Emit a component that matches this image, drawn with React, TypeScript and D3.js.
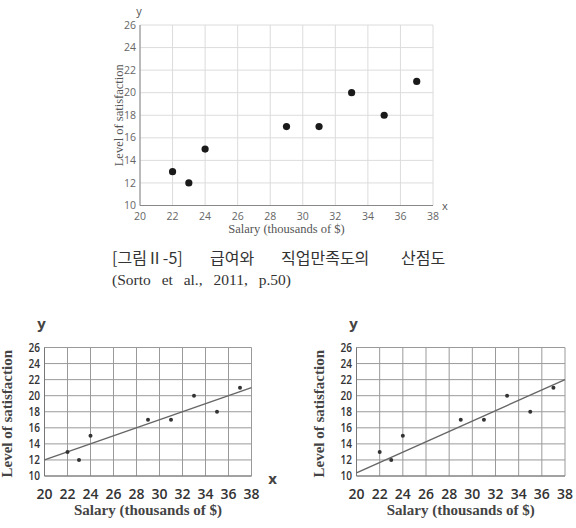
import React from 'react'
import * as d3 from 'd3'

// salary (thousands of $) vs level of satisfaction
const salary = [22, 23, 24, 29, 31, 33, 35, 37]
const satisfaction = [13, 12, 15, 17, 17, 20, 18, 21]
const xTicks = [20, 22, 24, 26, 28, 30, 32, 34, 36, 38]
const yTicks = [10, 12, 14, 16, 18, 20, 22, 24, 26]
// fitted lines drawn in the two lower panels, [x, y] end points
const lineA = [[20, 12], [38, 21]]
const lineB = [[20, 10.4], [38, 22]]

const serif = '"Liberation Serif", "DejaVu Serif", serif'
const sans = '"Open Sans", "Liberation Sans", sans-serif'

type PanelProps = {
  left: number, right: number, top: number, bottom: number,
  big: boolean, line?: number[][], showX: boolean
}

function Panel ({left, right, top, bottom, big, line, showX}: PanelProps) {
  const x = d3.scaleLinear().domain([20, 38]).range([left, right])
  const y = d3.scaleLinear().domain([10, 26]).range([bottom, top])
  const gridColor = big ? '#dcdcdc' : '#9a9a9a'
  const tickColor = big ? '#666' : '#333'
  const titleColor = big ? '#555' : '#444'
  const lineGen = d3.line<number[]>().x(d => x(d[0])).y(d => y(d[1]))
  const points = salary.map((s, i) => [s, satisfaction[i]])
  return (
    <g>
      {xTicks.map(t => (
        <line key={'gx' + t} x1={x(t)} x2={x(t)} y1={top} y2={bottom} stroke={gridColor} strokeWidth={1} />
      ))}
      {yTicks.map(t => (
        <line key={'gy' + t} x1={left} x2={right} y1={y(t)} y2={y(t)} stroke={gridColor} strokeWidth={1} />
      ))}
      <line x1={left} x2={left} y1={top} y2={bottom} stroke={big ? '#888' : '#777'} />
      <line x1={left} x2={right} y1={bottom} y2={bottom} stroke={big ? '#888' : '#777'} />
      {xTicks.map(t => (
        <text key={'tx' + t} x={x(t)} y={bottom + (big ? 14 : 23)} textAnchor='middle'
          fontFamily={sans} fontSize={big ? 10.5 : 14} fill={tickColor} fontWeight={big ? 400 : 600}>{t}</text>
      ))}
      {yTicks.map(t => big ? (
        <text key={'ty' + t} x={left - 4} y={y(t)} dy='0.35em' textAnchor='end'
          fontFamily={sans} fontSize={10.5} fill={tickColor}>{t}</text>
      ) : (
        <text key={'ty' + t} x={left - 16} y={y(t)} dy='0.35em'
          textLength={11.5} lengthAdjust='spacingAndGlyphs'
          fontFamily={sans} fontSize={12.5} fill={tickColor} fontWeight={600}>{t}</text>
      ))}
      {line && <path d={lineGen(line) || ''} fill='none' stroke='#666' strokeWidth={1.4} />}
      {points.map((p, i) => (
        <circle key={i} cx={x(p[0])} cy={y(p[1])} r={big ? 3.6 : 2} fill={big ? '#1a1a1a' : '#333'} />
      ))}
      <text x={(left + right) / 2} y={bottom + (big ? 27 : 39)} textAnchor='middle'
        fontFamily={serif} fontSize={big ? 12.5 : 15} fill={titleColor} fontWeight={big ? 400 : 600}>
        Salary (thousands of $)
      </text>
      <text transform={`translate(${big ? left - 21 : left - 38},${big ? (top + bottom) / 2 : (top + bottom) / 2 + 2}) rotate(-90)`}
        textAnchor='middle' dy='0.35em' fontFamily={serif} fontSize={big ? 12.5 : 15}
        fill={titleColor} fontWeight={big ? 400 : 600}>
        Level of satisfaction
      </text>
      <text x={big ? left - 1 : left - 3} y={big ? top - 10 : top - 19} textAnchor='middle'
        fontFamily={sans} fontSize={big ? 11 : 15} fill={titleColor} fontWeight={big ? 400 : 700}>y</text>
      {showX && (
        <text x={big ? right + 12 : right + 21} y={bottom + (big ? 4 : 8)} textAnchor='middle'
          fontFamily={sans} fontSize={big ? 11 : 15} fill={titleColor} fontWeight={big ? 400 : 700}>x</text>
      )}
    </g>
  )
}

export default function App () {
  return (
    <svg width={576} height={528} style={{position: 'absolute', left: 0, top: 0, background: '#fff'}}>
      <Panel left={140} right={433} top={25} bottom={205.5} big={true} showX={true} />
      <g fontFamily={'"Noto Sans CJK KR", ' + serif} fontSize={16} fill='#333'>
        <text x={112} y={264}>[그림Ⅱ-5]</text>
        <text x={210} y={264}>급여와</text>
        <text x={281} y={264}>직업만족도의</text>
        <text x={401} y={264}>산점도</text>
      </g>
      <text x={112} y={285} fontFamily={serif} fontSize={15.5} fill='#333' wordSpacing={7}>
        (Sorto et al., 2011, p.50)
      </text>
      <Panel left={44.5} right={251.5} top={347.5} bottom={476} big={false} line={lineA} showX={true} />
      <Panel left={356.5} right={565} top={347.5} bottom={476} big={false} line={lineB} showX={false} />
    </svg>
  )
}
